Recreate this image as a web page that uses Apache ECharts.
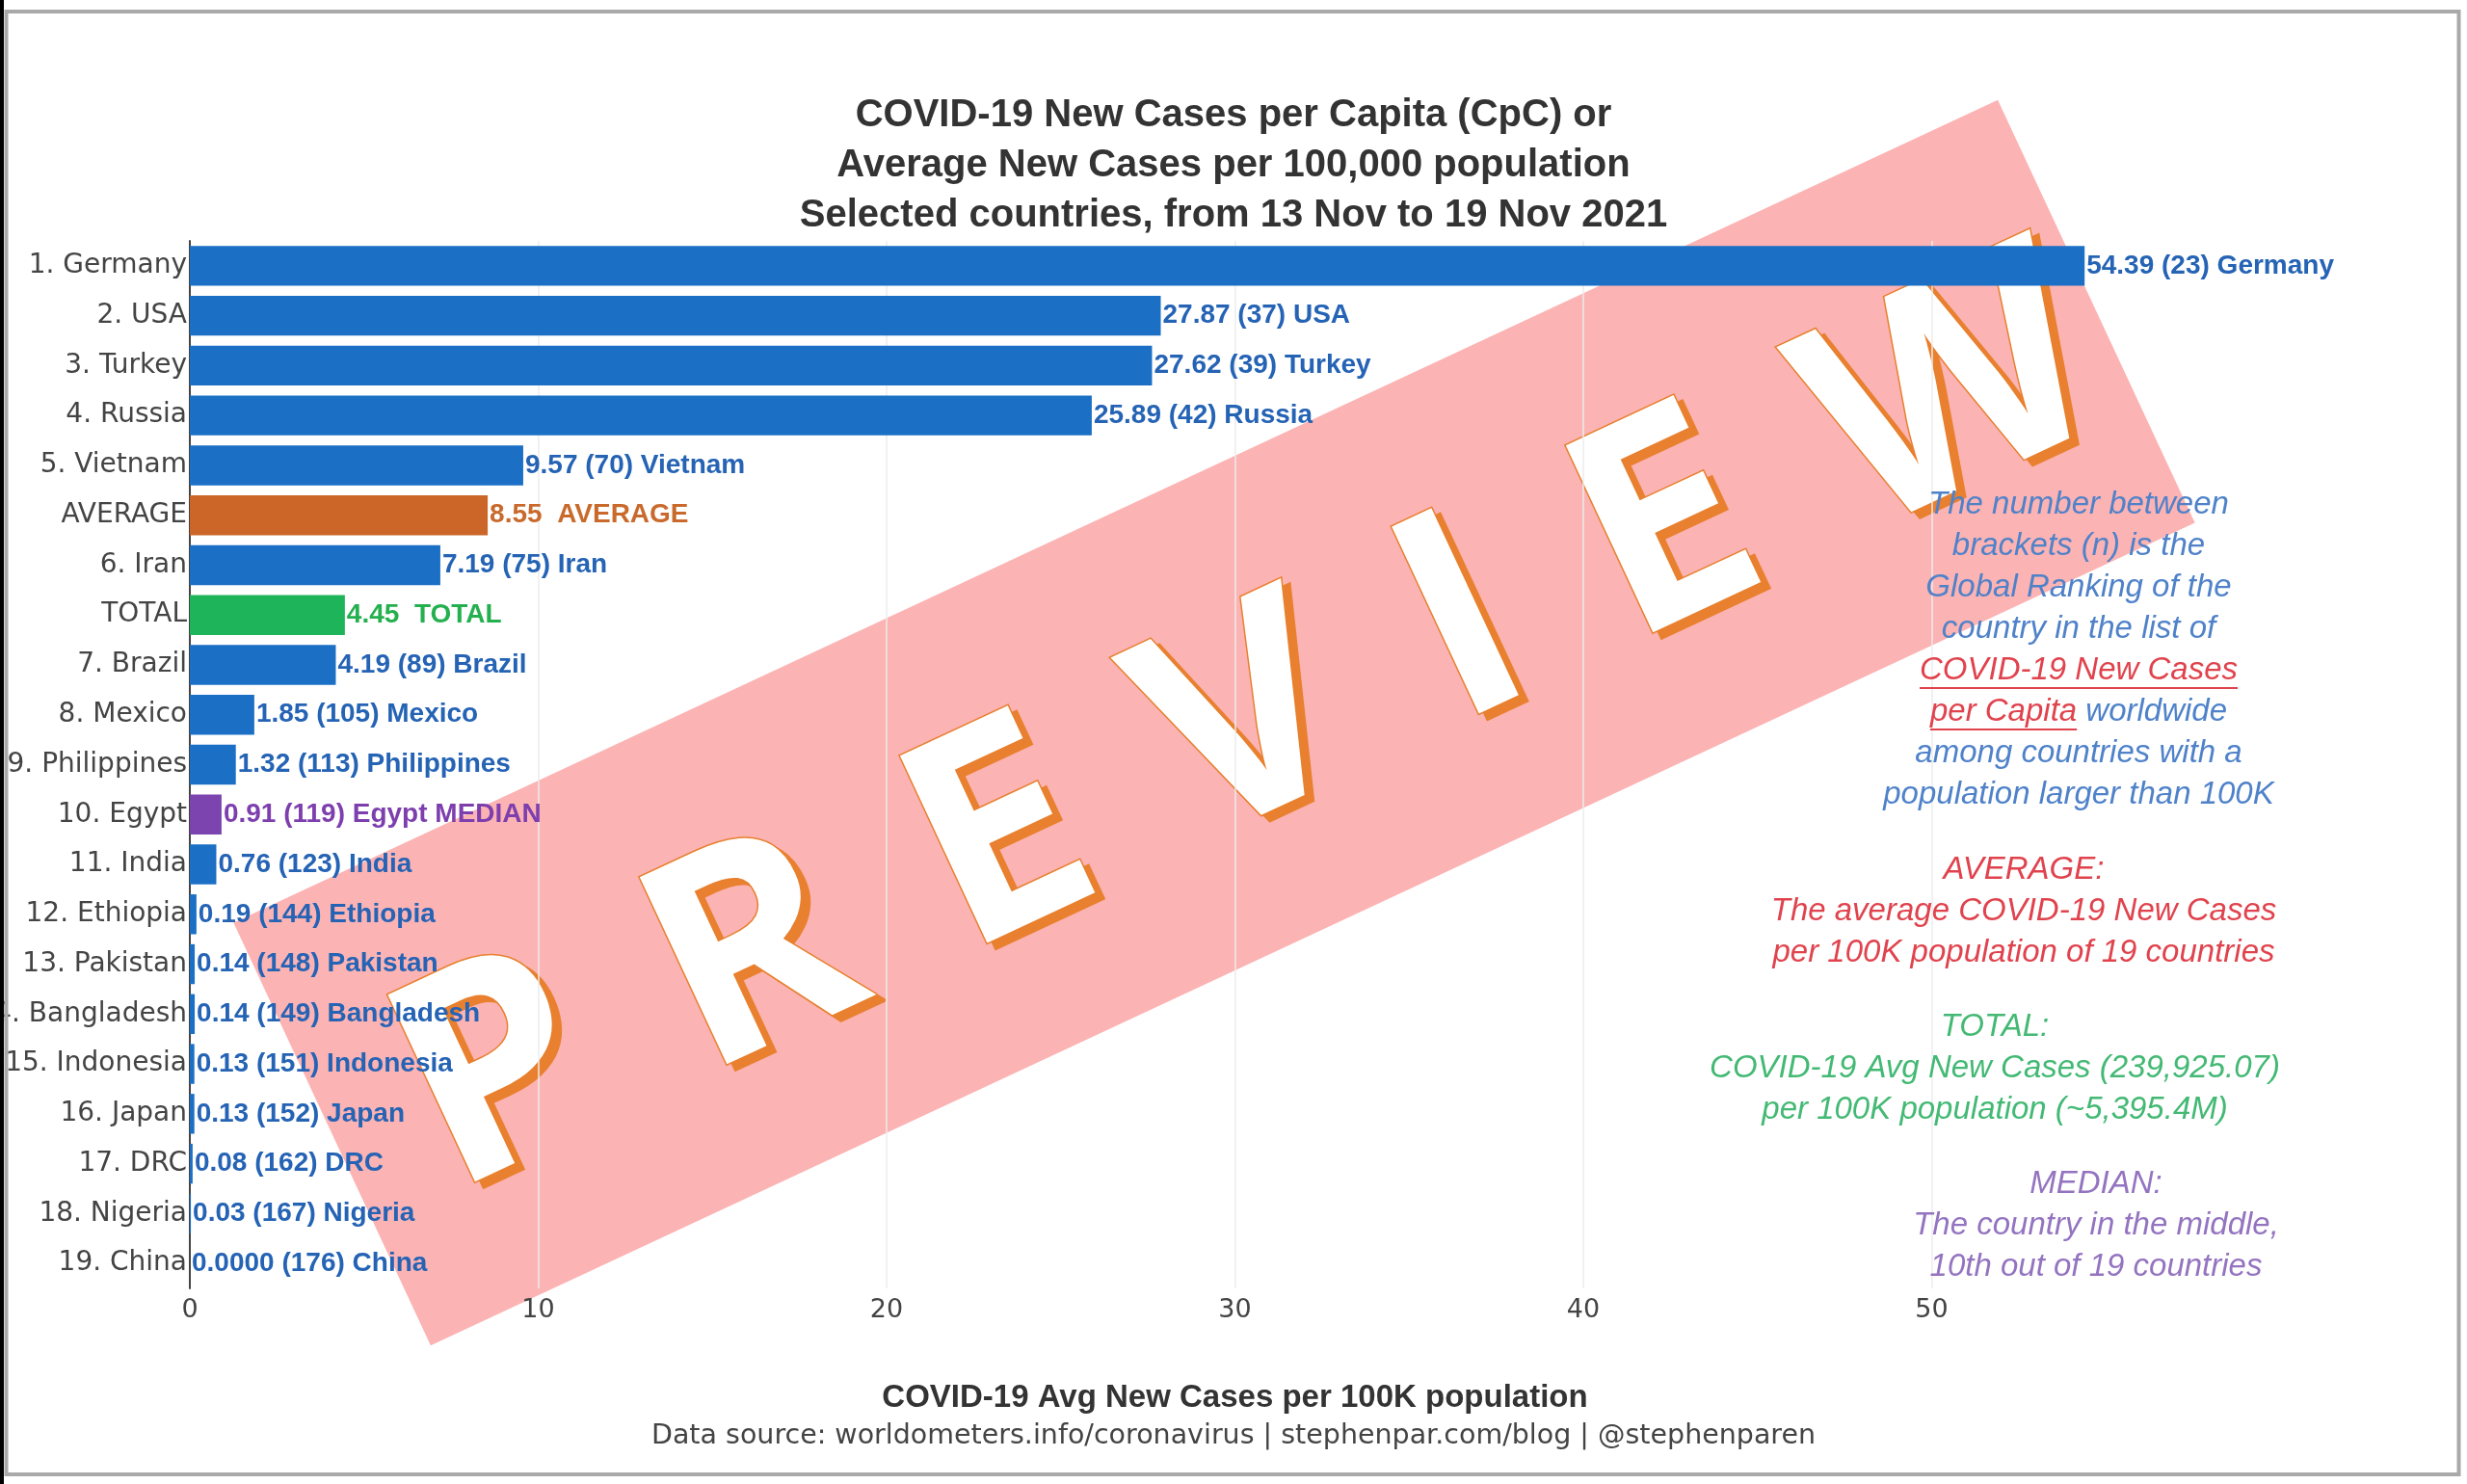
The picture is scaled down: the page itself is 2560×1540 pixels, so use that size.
<!DOCTYPE html>
<html>
<head>
<meta charset="utf-8">
<script src="https://cdn.jsdelivr.net/npm/echarts@6/dist/echarts.min.js"></script>
<style>
html,body{margin:0;padding:0;background:#fff;}
#c{width:2560px;height:1540px;}
</style>
</head>
<body>
<div id="c"></div>
<script>
// ---------------- data ----------------
const categories = ['1. Germany','2. USA','3. Turkey','4. Russia','5. Vietnam','AVERAGE','6. Iran','TOTAL','7. Brazil','8. Mexico','9. Philippines','10. Egypt','11. India','12. Ethiopia','13. Pakistan','14. Bangladesh','15. Indonesia','16. Japan','17. DRC','18. Nigeria','19. China'];
const values = [54.39,27.87,27.62,25.89,9.57,8.55,7.19,4.45,4.19,1.85,1.32,0.91,0.76,0.19,0.14,0.14,0.13,0.13,0.08,0.03,0.0000];
const barTexts = ['54.39 (23) Germany','27.87 (37) USA','27.62 (39) Turkey','25.89 (42) Russia','9.57 (70) Vietnam','8.55  AVERAGE','7.19 (75) Iran','4.45  TOTAL','4.19 (89) Brazil','1.85 (105) Mexico','1.32 (113) Philippines','0.91 (119) Egypt MEDIAN','0.76 (123) India','0.19 (144) Ethiopia','0.14 (148) Pakistan','0.14 (149) Bangladesh','0.13 (151) Indonesia','0.13 (152) Japan','0.08 (162) DRC','0.03 (167) Nigeria','0.0000 (176) China'];
const kinds = ['country','country','country','country','country','average','country','total','country','country','country','median','country','country','country','country','country','country','country','country','country'];
const xTickValues = [0,10,20,30,40,50];

const titleLines = ['COVID-19 New Cases per Capita (CpC) or','Average New Cases per 100,000 population','Selected countries, from 13 Nov to 19 Nov 2021'];
const xAxisTitle = 'COVID-19 Avg New Cases per 100K population';
const sourceLine = 'Data source: worldometers.info/coronavirus | stephenpar.com/blog | @stephenparen';

const noteRanking = ['The number between','brackets (n) is the','Global Ranking of the','country in the list of','COVID-19 New Cases','per Capita worldwide','among countries with a','population larger than 100K'];
const noteAverage = ['AVERAGE:','The average COVID-19 New Cases','per 100K population of 19 countries'];
const noteTotal = ['TOTAL:','COVID-19 Avg New Cases (239,925.07)','per 100K population (~5,395.4M)'];
const noteMedian = ['MEDIAN:','The country in the middle,','10th out of 19 countries'];
const watermarkText = 'PREVIEW';

// ---------------- styles ----------------
const barColor = {country:'#1b70c5', average:'#cc6628', total:'#1eb45a', median:'#7b44ae'};
const labelColor = {country:'#2563b5', average:'#c96a2c', total:'#25b04f', median:'#7e3fae'};
const noteBlue = '#4f82c9', noteRed = '#e0434d', noteGreen = '#43b974', notePurple = '#9474c0';

const mctx = document.createElement('canvas').getContext('2d');
function tw(t, font){ mctx.font = font; return mctx.measureText(t).width; }

const noteFont = 'italic 33px "Liberation Sans"';
const noteStep = 43;
const graphics = [];

function addBlock(lines, cx, y0, color, special) {
  lines.forEach((ln, i) => {
    const y = y0 + i * noteStep;
    if (special && special[i]) {
      const sp = special[i];
      const rest = ln.slice(sp.length);
      graphics.push({type:'text', x:cx, y:y, z:50, style:{
        text: '{r|' + sp + '}' + (rest ? '{b|' + rest + '}' : ''),
        rich:{r:{fill:noteRed, font:noteFont}, b:{fill:color, font:noteFont}},
        font: noteFont, fill: color, align:'center', verticalAlign:'middle'}});
      const wt = tw(ln, noteFont), wp = tw(sp, noteFont);
      const x0 = cx - wt / 2;
      graphics.push({type:'line', z:50, shape:{x1:x0, y1:y+18, x2:x0+wp, y2:y+18}, style:{stroke:noteRed, lineWidth:2}});
    } else {
      graphics.push({type:'text', x:cx, y:y, z:50, style:{text:ln, font:noteFont, fill:color, align:'center', verticalAlign:'middle'}});
    }
  });
}
addBlock(noteRanking, 2157, 524, noteBlue, {4:'COVID-19 New Cases', 5:'per Capita'});
addBlock(noteAverage, 2100, 903, noteRed);
addBlock(noteTotal, 2070, 1066, noteGreen);
addBlock(noteMedian, 2175, 1229, notePurple);

// source line
graphics.push({type:'text', x:1280, y:1491, z:50, style:{text:sourceLine, font:'28.5px "DejaVu Sans"', fill:'#444', align:'center', verticalAlign:'middle'}});

// watermark
const wmFont = 'bold 300px "Open Sans"';
const wmLetters = watermarkText.split('');
const wmGap = 100;
const wmW = wmLetters.map(l => tw(l, wmFont));
const wmTotal = wmW.reduce((a,b)=>a+b,0) + wmGap*(wmLetters.length-1);
const ang = 25 * Math.PI / 180;
const wmChildren = [{type:'rect', shape:{x:-1010, y:-242, width:2020, height:484}, style:{fill:'rgba(246,32,32,0.34)'}}];
const sx = 9, sy = 6;
const lsx = Math.cos(ang)*sx - Math.sin(ang)*sy, lsy = Math.sin(ang)*sx + Math.cos(ang)*sy;
const wmAlong = 30, wmPerp = 22;
let cur = -wmTotal/2 + wmAlong;
wmLetters.forEach((l, i) => {
  const cx = cur + wmW[i]/2;
  wmChildren.push({type:'text', x:cx+lsx, y:wmPerp+lsy, style:{text:l, font:wmFont, fill:'#e8802f', stroke:'#e8802f', lineWidth:3, lineJoin:'round', align:'center', verticalAlign:'middle'}});
  wmChildren.push({type:'text', x:cx, y:wmPerp, style:{text:l, font:wmFont, fill:'#ffffff', stroke:'#e8802f', lineWidth:3, lineJoin:'round', strokeFirst:true, align:'center', verticalAlign:'middle'}});
  cur += wmW[i] + wmGap;
});
graphics.push({type:'group', x:1260, y:750, rotation:ang, z:100, children:wmChildren});

// frame
graphics.push({type:'rect', z:110, shape:{x:0, y:0, width:4, height:1540}, style:{fill:'#000'}});
graphics.push({type:'rect', z:110, shape:{x:6.5, y:12, width:2545, height:1518}, style:{fill:'none', stroke:'#a9a9a9', lineWidth:4}});

// ---------------- chart ----------------
const chart = echarts.init(document.getElementById('c'));
const option = {
  backgroundColor:'#fff',
  animation:false,
  title:{
    text: titleLines.join('\n'), left:'center', top:89,
    textStyle:{fontFamily:'"Liberation Sans"', fontWeight:'bold', fontSize:40, lineHeight:52, color:'#333'}
  },
  grid:{left:197, right:194, top:250, bottom:203, containLabel:false, outerBoundsMode:'none'},
  xAxis:{
    type:'value', min:0, max:60, interval:10,
    name: xAxisTitle, nameLocation:'middle', nameGap:97,
    nameTextStyle:{fontFamily:'"Liberation Sans"', fontWeight:'bold', fontSize:33, color:'#333'},
    axisLine:{show:false}, axisTick:{show:false},
    axisLabel:{fontFamily:'"DejaVu Sans"', fontSize:27, color:'#444', margin:9, showMaxLabel:false,
      formatter: v => xTickValues.indexOf(v) >= 0 ? String(v) : ''},
    splitLine:{show:true, showMinLine:false, showMaxLine:false, lineStyle:{color:'#ececec', width:1.5}}
  },
  yAxis:{
    type:'category', data:categories, inverse:true,
    axisLine:{show:true, lineStyle:{color:'#444', width:2}}, axisTick:{show:false},
    axisLabel:{fontFamily:'"DejaVu Sans"', fontSize:28, color:'#444', margin:3},
    splitLine:{show:false}
  },
  series:[{
    type:'bar', barWidth:'80%',
    data: values.map((v,i) => ({value:v, itemStyle:{color:barColor[kinds[i]]}, label:{color:labelColor[kinds[i]]}})),
    label:{show:true, position:'right', distance:2, fontFamily:'"Liberation Sans"', fontWeight:'bold', fontSize:28,
      formatter: p => barTexts[p.dataIndex]}
  }],
  graphic: graphics
};
chart.setOption(option);
</script>
</body>
</html>
